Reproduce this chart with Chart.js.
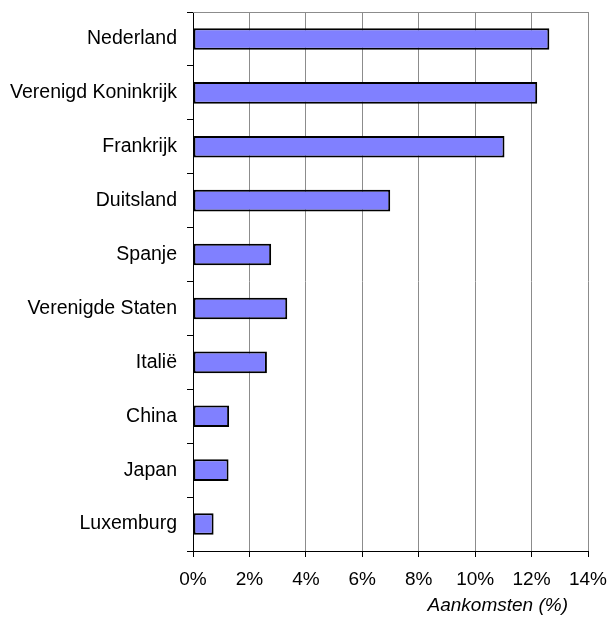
<!DOCTYPE html>
<html>
<head>
<meta charset="utf-8">
<script src="https://cdn.jsdelivr.net/npm/chart.js@4/dist/chart.umd.min.js"></script>
<style>
  html, body { margin: 0; padding: 0; background: #fff; }
  canvas { display: block; }
</style>
</head>
<body>
<canvas id="chart" width="607" height="618"></canvas>
<script>
// Data
const countries = ['Nederland', 'Verenigd Koninkrijk', 'Frankrijk', 'Duitsland', 'Spanje',
    'Verenigde Staten', 'Italië', 'China', 'Japan', 'Luxemburg'];
const arrivals = [12.63, 12.2, 11.04, 6.99, 2.77, 3.34, 2.62, 1.28, 1.26, 0.73];
const xTicks = [0, 2, 4, 6, 8, 10, 12, 14];
const axisTitle = 'Aankomsten (%)';

const fontFamily = "'Liberation Sans', Arial, sans-serif";

// Grey frame on top + the italic axis title under the ticks
const framePlugin = {
    id: 'frame',
    afterDraw(chart) {
        const ctx = chart.ctx;
        const area = chart.chartArea;
        ctx.save();
        ctx.strokeStyle = '#8c8c8c';
        ctx.lineWidth = 1;
        ctx.beginPath();
        ctx.moveTo(area.left, area.top + 0.5);
        ctx.lineTo(area.right, area.top + 0.5);
        ctx.stroke();

        ctx.fillStyle = '#000';
        ctx.font = 'italic 19px ' + fontFamily;
        ctx.textAlign = 'right';
        ctx.textBaseline = 'middle';
        ctx.fillText(axisTitle, area.right - 20, area.bottom + 55);
        ctx.restore();
    }
};

new Chart(document.getElementById('chart'), {
    type: 'bar',
    data: {
        labels: countries,
        datasets: [{
            data: arrivals,
            backgroundColor: '#8080ff',
            borderColor: '#000',
            borderWidth: 2,
            borderSkipped: false,
            categoryPercentage: 1,
            barPercentage: 0.4
        }]
    },
    options: {
        indexAxis: 'y',
        responsive: false,
        animation: false,
        layout: { padding: { top: 12, right: 19, bottom: 0, left: 0 } },
        plugins: {
            legend: { display: false },
            tooltip: { enabled: false }
        },
        scales: {
            x: {
                min: 0,
                max: 14,
                afterBuildTicks: (scale) => {
                    scale.ticks = xTicks.map(v => ({ value: v }));
                },
                afterFit: (scale) => {
                    scale.height = 67;
                    scale.paddingLeft = 0;
                    scale.paddingRight = 0;
                },
                grid: {
                    color: '#8c8c8c',
                    tickColor: '#000',
                    tickLength: 6
                },
                border: { color: '#000', width: 1 },
                ticks: {
                    color: '#000',
                    padding: 11,
                    maxRotation: 0,
                    font: { family: fontFamily, size: 19 },
                    callback: (v) => v + '%'
                }
            },
            y: {
                afterFit: (scale) => {
                    scale.width = 193;
                    scale.paddingTop = 0;
                    scale.paddingBottom = 0;
                },
                grid: {
                    drawOnChartArea: false,
                    offset: true,
                    color: '#000',
                    tickLength: 6
                },
                border: { color: '#000', width: 1 },
                ticks: {
                    color: '#000',
                    padding: 10,
                    font: { family: fontFamily, size: 19.5 }
                }
            }
        }
    },
    plugins: [framePlugin]
});
</script>
</body>
</html>
